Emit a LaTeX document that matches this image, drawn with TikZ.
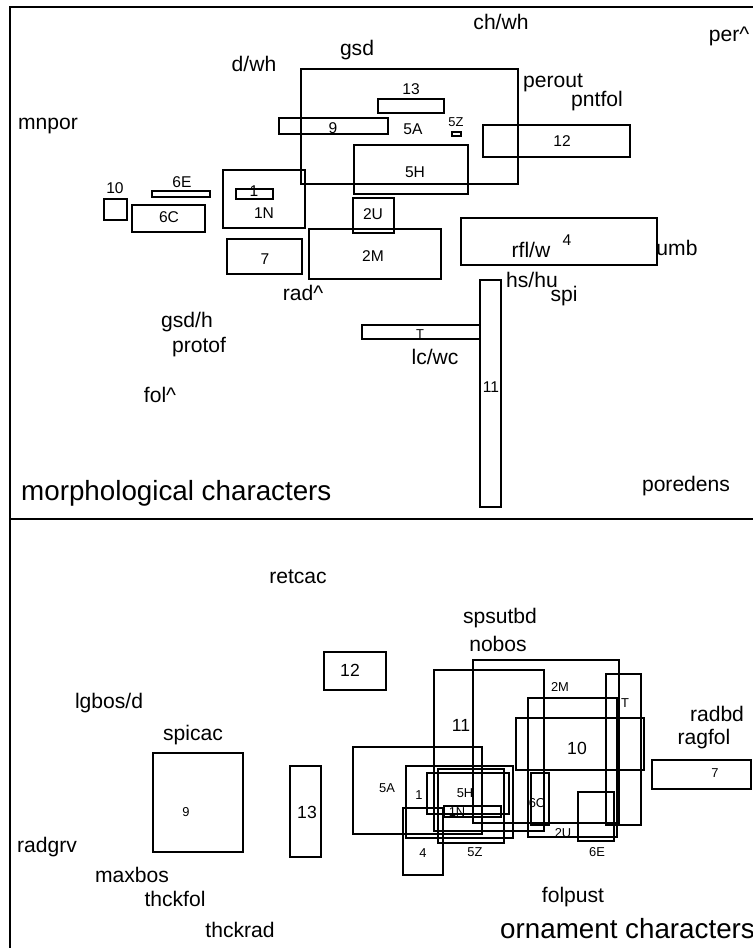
\documentclass[tikz,border=0pt]{standalone}
\usepackage{fontspec}
\setmainfont{Liberation Sans}

\begin{document}
\begin{tikzpicture}[
    x=0.03cm, y=-0.03cm,
    panel/.style={line width=1.3pt},
    box/.style={draw, line width=1.1pt},
    boxlab/.style={inner sep=0pt, font=\fontsize{13.3}{15}\selectfont},
    smalllab/.style={inner sep=0pt, font=\fontsize{11}{12}\selectfont},
    biglab/.style={inner sep=0pt, font=\fontsize{15}{17}\selectfont},
    charlab/.style={inner sep=0pt, font=\fontsize{18}{20}\selectfont},
    paneltitle/.style={inner sep=0pt, anchor=west, font=\fontsize{23.7}{26}\selectfont}
]
\useasboundingbox (0,0) rectangle (753,948);

% Frame and divider between the two panels
\draw[panel] (10,948) -- (10,7) -- (753,7);
\draw[panel] (10,519) -- (753,519);

% Morphological panel - boxes
\draw[box] (301,69) rectangle (518,184);
\draw[box] (378,99) rectangle (444,113);
\draw[box] (279,118) rectangle (388,134);
\draw[box] (452,132) rectangle (461,136);
\draw[box] (483,125) rectangle (630,157);
\draw[box] (354,145) rectangle (468,194);
\draw[box] (353,198) rectangle (394,233);
\draw[box] (309,229) rectangle (441,279);
\draw[box] (461,218) rectangle (657,265);
\draw[box] (223,170) rectangle (305,228);
\draw[box] (236,189) rectangle (273,199);
\draw[box] (152,191) rectangle (210,197);
\draw[box] (132,205) rectangle (205,232);
\draw[box] (104,199) rectangle (127,220);
\draw[box] (227,239) rectangle (302,274);
\draw[box] (362,325) rectangle (480,339);
\draw[box] (480,280) rectangle (501,507);

% Morphological panel - box labels
\node[boxlab] (m13) at (411,89) {13};
\node[boxlab] (m9) at (333,128) {9};
\node[boxlab] (m5A) at (413,129) {5A};
\node[smalllab] (m5Z) at (456,122) {5Z};
\node[boxlab] (m12) at (562,141) {12};
\node[boxlab] (m5H) at (415,172) {5H};
\node[boxlab] (m2U) at (373,214) {2U};
\node[boxlab] (m2M) at (373,256) {2M};
\node[boxlab] (m4) at (567,240) {4};
\node[boxlab] (m1N) at (264,213) {1N};
\node[boxlab] (m1) at (254,191) {1};
\node[boxlab] (m6E) at (182,182) {6E};
\node[boxlab] (m6C) at (169,217) {6C};
\node[boxlab] (m10) at (115,188) {10};
\node[boxlab] (m7) at (265,259) {7};
\node[smalllab] (mT) at (420,334) {T};
\node[boxlab] (m11) at (491,387) {11};

% Morphological panel - characters
\node[charlab] (chwh) at (501,22) {ch/wh};
\node[charlab] (perhat) at (729,36) {per\textasciicircum};
\node[charlab] (gsd) at (357,50) {gsd};
\node[charlab] (dwh) at (254,64) {d/wh};
\node[charlab] (mnpor) at (48,126) {mnpor};
\node[charlab] (perout) at (553,83) {perout};
\node[charlab] (pntfol) at (597,101) {pntfol};
\node[charlab] (umb) at (677,248) {umb};
\node[charlab] (rflw) at (531,250) {rfl/w};
\node[charlab] (radhat) at (303,293) {rad\textasciicircum};
\node[charlab] (gsdh) at (187,322) {gsd/h};
\node[charlab] (protof) at (199,347) {protof};
\node[charlab] (folhat) at (160,395) {fol\textasciicircum};
\node[charlab] (hshu) at (532,280) {hs/hu};
\node[charlab] (spi) at (564,296) {spi};
\node[charlab] (lcwc) at (435,357) {lc/wc};
\node[charlab] (poredens) at (686,486) {poredens};
\node[paneltitle] (morph) at (21,493) {morphological characters};

% Ornament panel - boxes
\draw[box] (324,652) rectangle (386,690);
\draw[box] (153,753) rectangle (243,852);
\draw[box] (290,766) rectangle (321,857);
\draw[box] (652,760) rectangle (751,789);
\draw[box] (434,670) rectangle (544,831);
\draw[box] (473,660) rectangle (619,823);
\draw[box] (606,674) rectangle (641,825);
\draw[box] (528,698) rectangle (617,837);
\draw[box] (516,718) rectangle (644,770);
\draw[box] (353,747) rectangle (482,834);
\draw[box] (406,766) rectangle (513,838);
\draw[box] (427,773) rectangle (509,814);
\draw[box] (438,769) rectangle (504,843);
\draw[box] (444,806) rectangle (501,817);
\draw[box] (403,808) rectangle (443,875);
\draw[box] (531,773) rectangle (549,825);
\draw[box] (578,792) rectangle (614,841);

% Ornament panel - box labels
\node[biglab] (o12) at (350,670) {12};
\node[smalllab] (o9) at (186,812) {9};
\node[biglab] (o13) at (307,812) {13};
\node[smalllab] (o7) at (715,773) {7};
\node[biglab] (o11) at (461,725) {11};
\node[smalllab] (o2M) at (560,687) {2M};
\node[smalllab] (oT) at (625,703) {T};
\node[biglab] (o10) at (577,748) {10};
\node[smalllab] (o5A) at (387,788) {5A};
\node[smalllab] (o1) at (419,795) {1};
\node[smalllab] (o5H) at (465,793) {5H};
\node[smalllab] (o1N) at (457,812) {1N};
\node[smalllab] (o4) at (423,853) {4};
\node[smalllab] (o5Z) at (475,852) {5Z};
\node[smalllab] (o6C) at (537,803) {6C};
\node[smalllab] (o2U) at (563,833) {2U};
\node[smalllab] (o6E) at (597,852) {6E};

% Ornament panel - characters
\node[charlab] (retcac) at (298,577) {retcac};
\node[charlab] (spsutbd) at (500,618) {spsutbd};
\node[charlab] (nobos) at (498,644) {nobos};
\node[charlab] (lgbosd) at (109,703) {lgbos/d};
\node[charlab] (spicac) at (193,735) {spicac};
\node[charlab] (radbd) at (717,714) {radbd};
\node[charlab] (ragfol) at (704,739) {ragfol};
\node[charlab] (radgrv) at (47,847) {radgrv};
\node[charlab] (maxbos) at (132,875) {maxbos};
\node[charlab] (thckfol) at (175,899) {thckfol};
\node[charlab] (folpust) at (573,897) {folpust};
\node[charlab] (thckrad) at (240,930) {thckrad};
\node[paneltitle] (orna) at (500,929) {ornament characters};

\end{tikzpicture}
\end{document}
